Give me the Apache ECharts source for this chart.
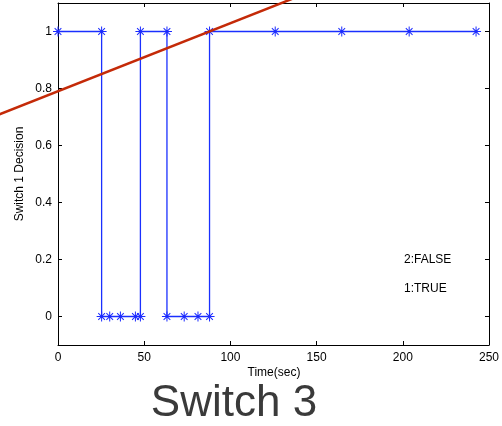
<!DOCTYPE html>
<html>
<head>
<meta charset="utf-8">
<script src="https://cdn.jsdelivr.net/npm/echarts@6/dist/echarts.min.js"></script>
<style>
html,body{margin:0;padding:0;background:#fff;}
#c{width:502px;height:426px;}
</style>
</head>
<body>
<div id="c"></div>
<script>
// Data
const blueT = [0, 25.3, 25.3, 30, 36.2, 44.9, 47.8, 47.8, 63.2, 63.2, 73.2, 81.2, 87.9, 87.9, 126, 164.6, 203.7, 242.5];
const blueV = [1, 1, 0, 0, 0, 0, 0, 1, 1, 0, 0, 0, 0, 1, 1, 1, 1, 1];
const redT = [-34, 136];
const redV = [0.709, 1.115];
const xTicks = [0, 50, 100, 150, 200, 250];
const yTicks = [0, 0.2, 0.4, 0.6, 0.8, 1];
const legendTexts = ['2:FALSE', '1:TRUE'];
const title = 'Switch 3';
const xName = 'Time(sec)';
const yName = 'Switch 1 Decision';

const font = 'Liberation Sans, Arial, sans-serif';
const star = 'path://M4.5,0 L5.5,0 L5.5,10 L4.5,10 Z M0,4.5 L10,4.5 L10,5.5 L0,5.5 Z M1.3,2 L2,1.3 L8.7,8 L8,8.7 Z M8,1.3 L8.7,2 L2,8.7 L1.3,8 Z';

const chart = echarts.init(document.getElementById('c'), null, {renderer: 'canvas'});
const baseAxis = {
  axisLine: {show: true, onZero: false, lineStyle: {color: '#000', width: 1}},
  splitLine: {show: false},
};
chart.setOption({
  animation: false,
  backgroundColor: '#fff',
  grid: {left: 58, right: 11, top: 3, bottom: 81, show: false},
  xAxis: [
    Object.assign({}, baseAxis, {
      type: 'value', min: 0, max: 250, interval: 50, position: 'bottom',
      axisTick: {show: true, inside: true, length: 4, customValues: xTicks, lineStyle: {color: '#000'}},
      axisLabel: {show: true, customValues: xTicks, color: '#000', fontFamily: font, fontSize: 12, margin: 7}
    }),
    Object.assign({}, baseAxis, {
      type: 'value', min: 0, max: 250, interval: 50, position: 'top',
      axisTick: {show: true, inside: true, length: 4, customValues: xTicks, lineStyle: {color: '#000'}},
      axisLabel: {show: false}
    })
  ],
  yAxis: [
    Object.assign({}, baseAxis, {
      type: 'value', min: -0.1, max: 1.1, position: 'left',
      axisTick: {show: true, inside: true, length: 4, customValues: yTicks, lineStyle: {color: '#000'}},
      axisLabel: {show: true, customValues: yTicks, color: '#000', fontFamily: font, fontSize: 12, margin: 6}
    }),
    Object.assign({}, baseAxis, {
      type: 'value', min: -0.1, max: 1.1, position: 'right',
      axisTick: {show: true, inside: true, length: 4, customValues: yTicks, lineStyle: {color: '#000'}},
      axisLabel: {show: false}
    })
  ],
  series: [
    {
      type: 'line',
      data: blueT.map((t, i) => [t, blueV[i]]),
      symbol: star, symbolSize: 10,
      showSymbol: true,
      lineStyle: {color: '#1a30ff', width: 1.3},
      itemStyle: {color: '#1a2aff'},
      z: 2
    },
    {
      type: 'custom',
      clip: false,
      z: 3,
      data: [[redT[0], redV[0], redT[1], redV[1]]],
      renderItem: function (params, api) {
        const p0 = api.coord([api.value(0), api.value(1)]);
        const p1 = api.coord([api.value(2), api.value(3)]);
        return {
          type: 'line',
          shape: {x1: p0[0], y1: p0[1], x2: p1[0], y2: p1[1]},
          style: {stroke: '#c42a08', lineWidth: 2.5}
        };
      }
    }
  ],
  graphic: [
    {type: 'text', left: 404, top: 254, style: {text: legendTexts[0], font: '12px ' + font, fill: '#000'}},
    {type: 'text', left: 404, top: 283, style: {text: legendTexts[1], font: '12px ' + font, fill: '#000'}},
    {type: 'text', x: 274, y: 373, style: {text: xName, font: '12px ' + font, fill: '#000', align: 'center', verticalAlign: 'middle'}},
    {type: 'text', x: 20, y: 174, rotation: Math.PI / 2, style: {text: yName, font: '12px ' + font, fill: '#000', align: 'center', verticalAlign: 'middle'}},
    {type: 'text', x: 234, y: 404, style: {text: title, font: '44px ' + font, fill: '#3a3a3a', align: 'center', verticalAlign: 'middle'}}
  ]
});
</script>
</body>
</html>
